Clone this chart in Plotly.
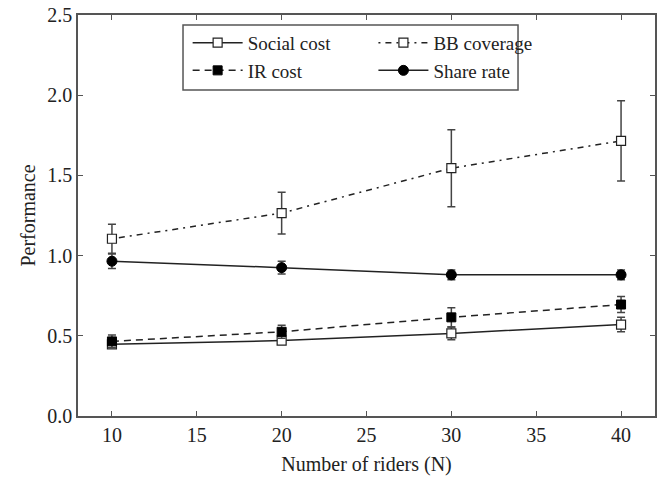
import plotly.graph_objects as go

riders = [10, 20, 30, 40]

social_cost = [0.447, 0.47, 0.515, 0.57]
social_err = [0.02, 0.015, 0.04, 0.045]

ir_cost = [0.465, 0.525, 0.615, 0.695]
ir_err = [0.04, 0.04, 0.06, 0.05]

bb_coverage = [1.105, 1.265, 1.545, 1.715]
bb_err = [0.09, 0.13, 0.24, 0.25]

share_rate = [0.965, 0.925, 0.88, 0.88]
share_err = [0.045, 0.04, 0.03, 0.03]

ink = "#222222"
err_color = "#444444"
font_family = "Liberation Serif"

def err(vals):
    return dict(type="data", array=vals, visible=True, color=err_color,
                thickness=1.5, width=4)

fig = go.Figure()
fig.add_trace(go.Scatter(
    x=riders, y=social_cost, name="Social cost", mode="lines+markers",
    legend="legend", legendgroup="a",
    line=dict(color=ink, width=1.5, dash="solid"),
    marker=dict(symbol="square", size=9, color="white", line=dict(color=ink, width=1.2)),
    error_y=err(social_err)))
fig.add_trace(go.Scatter(
    x=riders, y=ir_cost, name="IR cost", mode="lines+markers",
    legend="legend", legendgroup="b",
    line=dict(color=ink, width=1.5, dash="7px,5px"),
    marker=dict(symbol="square", size=9, color="black", line=dict(color="black", width=1)),
    error_y=err(ir_err)))
fig.add_trace(go.Scatter(
    x=riders, y=bb_coverage, name="BB coverage", mode="lines+markers",
    legend="legend2", legendgroup="c",
    line=dict(color=ink, width=1.5, dash="2px,5px,6px,5px"),
    marker=dict(symbol="square", size=9, color="white", line=dict(color=ink, width=1.2)),
    error_y=err(bb_err)))
fig.add_trace(go.Scatter(
    x=riders, y=share_rate, name="Share rate", mode="lines+markers",
    legend="legend2", legendgroup="d",
    line=dict(color=ink, width=1.5, dash="solid"),
    marker=dict(symbol="circle", size=10, color="black", line=dict(color="black", width=1)),
    error_y=err(share_err)))

axis_common = dict(
    showgrid=False, zeroline=False, showline=True, linecolor="#555555", linewidth=1.5,
    mirror="ticks", ticks="inside", ticklen=5, tickwidth=1, tickcolor="#555555",
    tickfont=dict(family=font_family, size=20, color="#222222"),
    automargin=False,
)

legend_common = dict(
    orientation="v", xanchor="left", yanchor="top",
    bgcolor="rgba(0,0,0,0)", borderwidth=0,
    font=dict(family=font_family, size=19, color="#222222"),
    tracegroupgap=0, itemwidth=50,
)

fig.update_layout(
    width=661, height=477,
    margin=dict(l=78, r=6, t=15, b=61),
    paper_bgcolor="white", plot_bgcolor="white",
    font=dict(family=font_family, color="#222222"),
    xaxis=dict(range=[8, 42], tickvals=[10, 15, 20, 25, 30, 35, 40],
               title=dict(text="Number of riders (N)", font=dict(family=font_family, size=20), standoff=12),
               **axis_common),
    yaxis=dict(range=[0, 2.5], tickvals=[0, 0.5, 1.0, 1.5, 2.0, 2.5], tickformat=".1f",
               title=dict(text="Performance", font=dict(family=font_family, size=20), standoff=6),
               **axis_common),
    legend=dict(x=0.19, y=0.978, **legend_common),
    legend2=dict(x=0.512, y=0.978, **legend_common),
    shapes=[dict(type="rect", xref="paper", yref="paper",
                 x0=0.182, x1=0.7626, y0=0.813, y1=0.975,
                 line=dict(color="#555555", width=1.5), fillcolor="white", layer="below")],
    showlegend=True,
)

fig.write_html("out.html", config={"displayModeBar": False},
               post_script="document.body.style.margin='0';")
